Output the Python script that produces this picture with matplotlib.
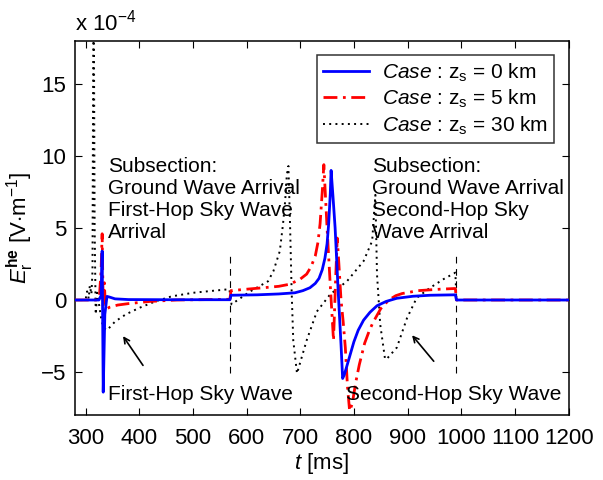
import numpy as np
import matplotlib
matplotlib.use("Agg")
import matplotlib.pyplot as plt

plt.rcParams['font.family'] = ['Liberation Sans', 'DejaVu Sans']
plt.rcParams['mathtext.fontset'] = 'custom'
plt.rcParams['mathtext.rm'] = 'Liberation Sans'
plt.rcParams['mathtext.it'] = 'Liberation Sans:italic'
plt.rcParams['mathtext.bf'] = 'Liberation Sans:bold'

# values, t in ms, E in units of 1e-4 V/m
t_z0 = [280, 325, 329, 331, 333, 336, 340, 345, 355, 380, 450, 569,
        571, 620, 660, 690, 705, 718, 728, 735, 741, 746, 750, 753, 756,
        757.5, 761, 765, 771, 776, 779, 782, 786, 793, 800, 808, 818, 830,
        843, 860, 880, 910, 942, 989, 991, 1200]
e_z0 = [0, 0, 0.3, 3.4, -6.4, -1.0, 0.25, 0.2, 0.08, 0.03, 0.02, 0.02,
        0.33, 0.36, 0.42, 0.5, 0.65, 0.85, 1.15, 1.5, 2.1, 2.9, 3.9, 5.3,
        7.4, 9.0, 7.2, 5.0, 0.4, -3.1, -5.45, -5.2, -4.7, -3.8, -2.9, -2.1,
        -1.4, -0.85, -0.4, -0.1, 0.12, 0.26, 0.33, 0.36, 0, 0]

t_z5 = [280, 320, 326, 329, 331, 333, 335, 337, 340, 345, 360, 380, 420,
        470, 569, 571, 600, 631, 660, 681, 700, 712, 720, 728, 733, 737,
        741, 744, 750, 756, 762, 766, 769, 772, 776, 780, 784, 788, 792,
        797, 803, 810, 820, 828, 835, 850, 865, 878, 890, 920, 960, 989,
        991, 1200]
e_z5 = [0, 0, 0.3, 2.0, 4.6, -0.5, 1.2, -0.3, -0.6, -0.5, -0.35, -0.25,
        -0.1, 0, 0.05, 0.65, 0.75, 0.85, 0.95, 1.1, 1.45, 1.8, 2.3, 3.05,
        4.0, 5.3, 7.5, 9.4, 5.0, 1.0, -2.8, 1.5, 4.3, 2.5, 0, -1.5, -3.3,
        -6.0, -7.7, -7.2, -5.8, -4.5, -3.0, -2.2, -1.6, -0.6, 0, 0.3, 0.45,
        0.65, 0.75, 0.8, 0, 0]

t_z30 = [280, 300, 303, 306, 308, 311, 313, 315, 317, 319, 322, 326, 330,
         336, 340, 355, 375, 400, 430, 460, 500, 540, 568, 572, 607, 640,
         650, 662, 668, 672, 675, 678, 681, 684, 687, 694, 712, 731, 756,
         787, 818, 834, 840, 843, 849, 858, 861, 880, 899, 917, 942, 967,
         989, 991, 1200]
e_z30 = [0, 0, 0.6, 0.1, 1.0, 0.4, 2.0, 25, 5.0, -1.0, 0.5, -0.5, -1.5,
         -2.0, -2.1, -1.5, -1.0, -0.55, -0.1, 0.25, 0.5, 0.65, 0.75, -0.3,
         0.6, 1.3, 2.0, 3.4, 5.3, 6.9, 8.7, 9.3, 5.3, 0.6, -2.8, -5.1, -2.8,
         -0.8, 0.4, 1.3, 2.7, 4.1, 7.3, 1.8, -1.7, -4.1, -4.1, -3.3, -1.25,
         0.15, 0.85, 1.45, 1.9, 0, 0]

subsection_t = [570, 990]
labels = [r'$\mathit{Case}$ : z$_\mathrm{s}$ = 0 km',
          r'$\mathit{Case}$ : z$_\mathrm{s}$ = 5 km',
          r'$\mathit{Case}$ : z$_\mathrm{s}$ = 30 km']

fig = plt.figure(figsize=(6.03, 4.8), dpi=100)
ax = fig.add_axes([0.124, 0.135, 0.819, 0.78])

ax.plot(t_z0, e_z0, color='blue', lw=2.0, label=labels[0], zorder=4)
ax.plot(t_z5, e_z5, color='red', lw=2.0, ls=(0, (5, 2, 1, 2)), label=labels[1], zorder=3)
ax.plot(t_z30, e_z30, color='black', lw=1.4, ls=(0, (1, 2.2)), label=labels[2], zorder=2)

ax.vlines(subsection_t, -5.1, 3.2, colors='black', linestyles=(0, (6, 5)), lw=0.8)

ax.set_xlim(280, 1200)
ax.set_ylim(-8, 18)
ax.set_xticks(np.arange(300, 1201, 100))
ax.set_yticks([-5, 0, 5, 10, 15])
ax.tick_params(direction='in', top=True, right=True, length=5, width=0.8,
               labelsize=16)
ax.tick_params(axis='x', pad=9)
ax.tick_params(axis='y', pad=6)
for s in ax.spines.values():
    s.set_linewidth(1.1)

ax.set_xlabel(r'$t$ [ms]', fontsize=16, labelpad=2)
ax.set_ylabel(r'$E_\mathrm{r}^\mathbf{he}$ [V$\cdot$m$^{-1}$]', fontsize=16, labelpad=4)
ax.text(0, 1.015, r'x 10$^{-4}$', transform=ax.transAxes, fontsize=16,
        ha='left', va='bottom')

txt = dict(fontsize=15, linespacing=1.2, va='top', ha='left')
ax.text(342, 9.9, 'Subsection:\nGround Wave Arrival\nFirst-Hop Sky Wave\nArrival', **txt)
ax.text(833, 9.9, 'Subsection:\nGround Wave Arrival\nSecond-Hop Sky\nWave Arrival', **txt)
ax.text(342, -6.55, 'First-Hop Sky Wave', fontsize=15, va='center', ha='left')
ax.text(785, -6.55, 'Second-Hop Sky Wave', fontsize=15, va='center', ha='left')

arrow = dict(arrowstyle='->', color='black', lw=1.2)
ax.annotate('', xy=(367, -2.35), xytext=(410, -4.7), arrowprops=arrow)
ax.annotate('', xy=(905, -2.3), xytext=(952, -4.4), arrowprops=arrow)

leg = ax.legend(loc='upper right', bbox_to_anchor=(0.97, 0.962), fontsize=15,
                frameon=True, fancybox=False, edgecolor='black',
                handlelength=2.2, labelspacing=0.2, borderpad=0.3,
                handletextpad=0.6, borderaxespad=0)
leg.get_frame().set_linewidth(1.1)

fig.savefig('out.png', dpi=100)
